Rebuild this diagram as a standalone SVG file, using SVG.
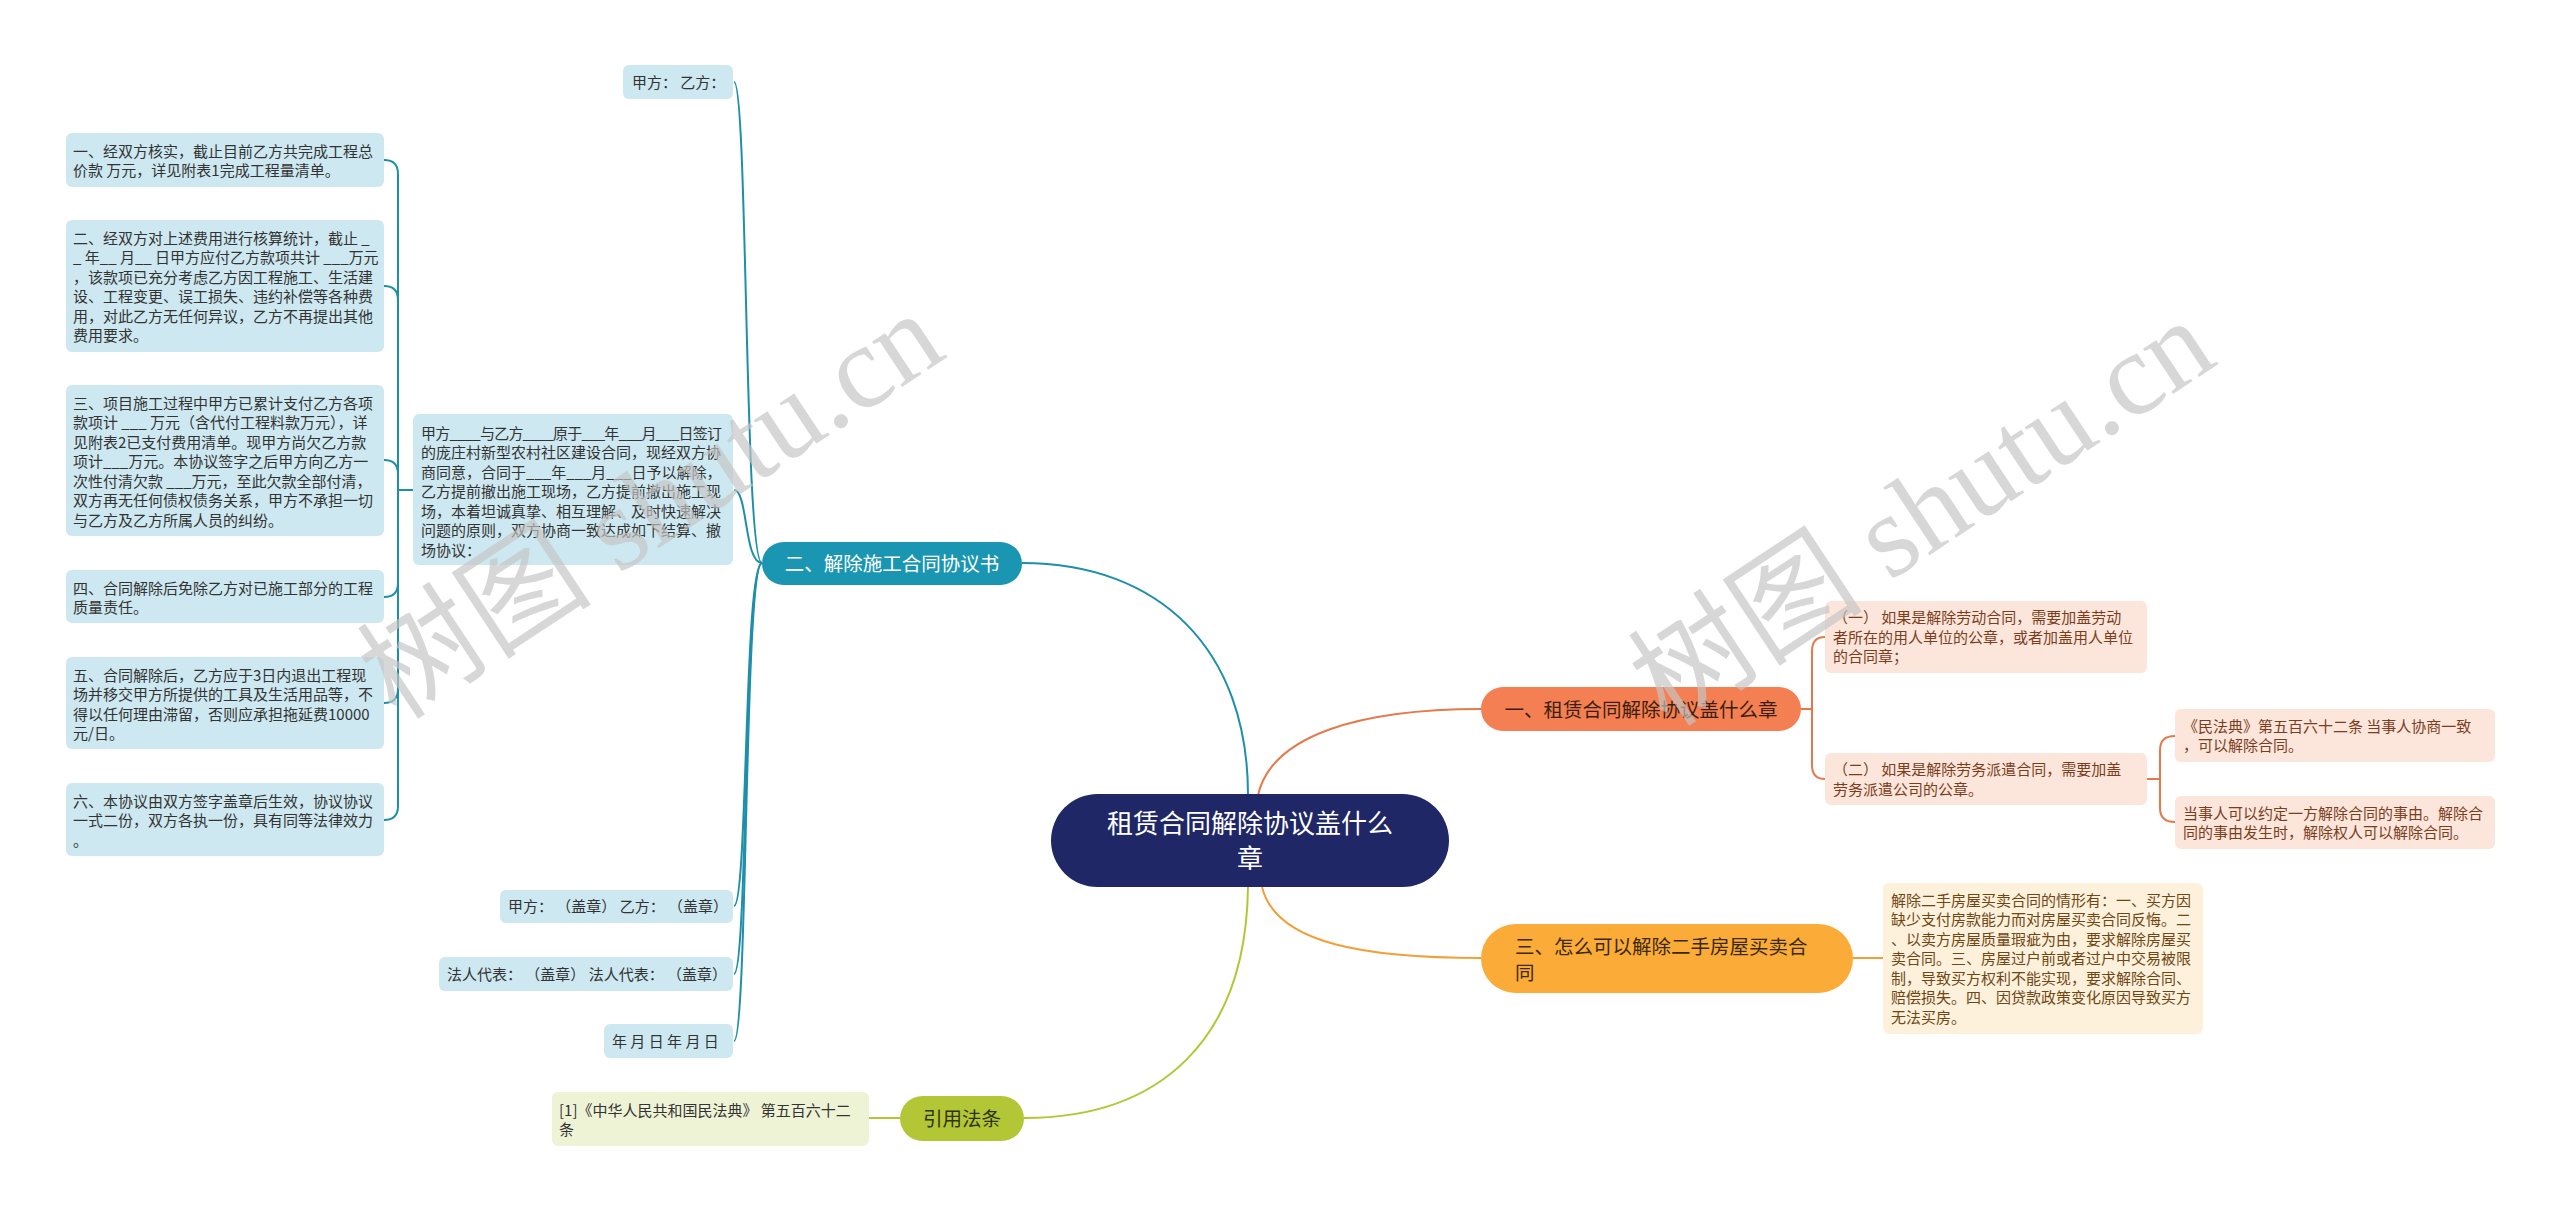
<svg xmlns="http://www.w3.org/2000/svg" width="2560" height="1211" viewBox="0 0 2560 1211">
<style>
text { font-family: "Noto Sans CJK SC", "Noto Sans", sans-serif; }
.t15 { font-size: 15px; fill: #333333; }
.tb { font-size: 15px; fill: #7a3e1d; }
.tc { font-size: 15px; fill: #6f4714; }
.leaf { fill: #cde8f0; }
.peach { fill: #fce5da; }
.cream { fill: #fdf1dc; }
.green { fill: #eef3d6; }
.teal { fill: none; stroke: #1e8fab; stroke-width: 2; }
.coral { fill: none; stroke: #e47a4c; stroke-width: 2; }
.amber { fill: none; stroke: #f0a036; stroke-width: 2; }
.olive { fill: none; stroke: #b3c635; stroke-width: 2; }
.main { font-size: 19.5px; }
.wm { font-family: "Liberation Serif", "Noto Sans CJK SC", serif; font-size: 118px; fill: #c4c4c4; fill-opacity: 0.68; }
</style>
<rect width="2560" height="1211" fill="#ffffff"/>

<g id="connectors">
  <path class="teal" d="M1248 795 C1248 650 1160 563 1022 563" stroke-width="2.5"/>
  <path class="coral" d="M1258 795 C1272 735 1360 709 1481 709" stroke-width="2.5"/>
  <path class="amber" d="M1262 887 C1276 945 1370 958 1481 958" stroke-width="2.5"/>
  <path class="olive" d="M1248 887 C1246 1040 1160 1118 1024 1118" stroke-width="2.5"/>
  <path class="teal" d="M762 563 C744 563 748 82 734 82"/>
  <path class="teal" d="M762 563 C744 563 748 490 734 490"/>
  <path class="teal" d="M762 563 C744 563 748 906 734 906"/>
  <path class="teal" d="M762 563 C744 563 748 974 734 974"/>
  <path class="teal" d="M762 563 C744 563 748 1041 734 1041"/>
  <path class="teal" d="M413 490 L398 490"/>
  <path class="teal" d="M398 174 L398 806"/>
  <path class="teal" d="M384 160 Q398 160 398 174"/>
  <path class="teal" d="M384 286 Q398 286 398 300"/>
  <path class="teal" d="M384 460 Q398 460 398 474"/>
  <path class="teal" d="M384 597 Q398 597 398 583"/>
  <path class="teal" d="M384 703 Q398 703 398 689"/>
  <path class="teal" d="M384 820 Q398 820 398 806"/>
  <path class="coral" d="M1801 709 L1812 709"/>
  <path class="coral" d="M1825 637 Q1812 637 1812 651 L1812 765 Q1812 779 1825 779"/>
  <path class="coral" d="M2147 779 L2160 779"/>
  <path class="coral" d="M2175 736 Q2160 736 2160 750 L2160 808 Q2160 822 2175 822"/>
  <path class="amber" d="M1853 958 L1883 958"/>
  <path class="olive" d="M869 1118 L900 1118"/>
</g>

<g id="center">
  <rect x="1051" y="794" width="398" height="93" rx="46.5" fill="#202766"/>
  <text x="1250" y="833" text-anchor="middle" font-size="26" fill="#ffffff">租赁合同解除协议盖什么</text>
  <text x="1250" y="868" text-anchor="middle" font-size="26" fill="#ffffff">章</text>
</g>

<g id="branch-2">
  <rect x="762" y="542" width="260" height="43" rx="21.5" fill="#1a96b3"/>
  <text class="main" x="892" y="570.5" text-anchor="middle" fill="#ffffff">二、解除施工合同协议书</text>
</g>

<g id="n-jiayi">
  <rect class="leaf" x="623" y="65" width="110" height="34" rx="6"/>
  <text class="t15" x="632" y="87.5">甲方： 乙方：</text>
</g>

<g id="n-intro">
  <rect class="leaf" x="413" y="414" width="320" height="151" rx="6"/>
  <text class="t15" x="421" y="438.7"><tspan textLength="301" lengthAdjust="spacing">甲方____与乙方____原于___年___月___日签订</tspan><tspan x="421" dy="19.5">的庞庄村新型农村社区建设合同，现经双方协</tspan><tspan x="421" dy="19.5">商同意，合同于___年___月___日予以解除，</tspan><tspan x="421" dy="19.5">乙方提前撤出施工现场，乙方提前撤出施工现</tspan><tspan x="421" dy="19.5">场，本着坦诚真挚、相互理解、及时快速解决</tspan><tspan x="421" dy="19.5">问题的原则，双方协商一致达成如下结算、撤</tspan><tspan x="421" dy="19.5">场协议：</tspan></text>
</g>

<g id="n-c1">
  <rect class="leaf" x="66" y="133" width="318" height="54" rx="6"/>
  <text class="t15" x="73" y="156.7">一、经双方核实，截止目前乙方共完成工程总<tspan x="73" dy="19.5">价款 万元，详见附表1完成工程量清单。</tspan></text>
</g>

<g id="n-c2">
  <rect class="leaf" x="66" y="220" width="318" height="132" rx="6"/>
  <text class="t15" x="73" y="243.7">二、经双方对上述费用进行核算统计，截止 _<tspan x="73" dy="19.5">_ 年__ 月__ 日甲方应付乙方款项共计 ___万元</tspan><tspan x="73" dy="19.5">，该款项已充分考虑乙方因工程施工、生活建</tspan><tspan x="73" dy="19.5">设、工程变更、误工损失、违约补偿等各种费</tspan><tspan x="73" dy="19.5">用，对此乙方无任何异议，乙方不再提出其他</tspan><tspan x="73" dy="19.5">费用要求。</tspan></text>
</g>

<g id="n-c3">
  <rect class="leaf" x="66" y="385" width="318" height="151" rx="6"/>
  <text class="t15" x="73" y="408.7">三、项目施工过程中甲方已累计支付乙方各项<tspan x="73" dy="19.5">款项计 ___ 万元（含代付工程料款万元），详</tspan><tspan x="73" dy="19.5">见附表2已支付费用清单。现甲方尚欠乙方款</tspan><tspan x="73" dy="19.5">项计___万元。本协议签字之后甲方向乙方一</tspan><tspan x="73" dy="19.5">次性付清欠款 ___万元，至此欠款全部付清，</tspan><tspan x="73" dy="19.5">双方再无任何债权债务关系，甲方不承担一切</tspan><tspan x="73" dy="19.5">与乙方及乙方所属人员的纠纷。</tspan></text>
</g>

<g id="n-c4">
  <rect class="leaf" x="66" y="570" width="318" height="53" rx="6"/>
  <text class="t15" x="73" y="593.7">四、合同解除后免除乙方对已施工部分的工程<tspan x="73" dy="19.5">质量责任。</tspan></text>
</g>

<g id="n-c5">
  <rect class="leaf" x="66" y="657" width="318" height="92" rx="6"/>
  <text class="t15" x="73" y="680.7">五、合同解除后，乙方应于3日内退出工程现<tspan x="73" dy="19.5">场并移交甲方所提供的工具及生活用品等，不</tspan><tspan x="73" dy="19.5">得以任何理由滞留，否则应承担拖延费10000</tspan><tspan x="73" dy="19.5">元/日。</tspan></text>
</g>

<g id="n-c6">
  <rect class="leaf" x="66" y="783" width="318" height="73" rx="6"/>
  <text class="t15" x="73" y="806.7">六、本协议由双方签字盖章后生效，协议协议<tspan x="73" dy="19.5">一式二份，双方各执一份，具有同等法律效力</tspan><tspan x="73" dy="19.5">。</tspan></text>
</g>

<g id="n-seal">
  <rect class="leaf" x="500" y="890" width="233" height="33" rx="6"/>
  <text class="t15" x="508" y="912">甲方： （盖章） 乙方： （盖章）</text>
</g>

<g id="n-legal">
  <rect class="leaf" x="439" y="957" width="294" height="34" rx="6"/>
  <text class="t15" x="447" y="979.5">法人代表： （盖章） 法人代表： （盖章）</text>
</g>

<g id="n-date">
  <rect class="leaf" x="604" y="1024" width="129" height="34" rx="6"/>
  <text class="t15" x="612" y="1046.5">年 月 日 年 月 日</text>
</g>

<g id="branch-1">
  <rect x="1481" y="687" width="320" height="44" rx="22" fill="#f47f52"/>
  <text class="main" x="1641" y="716.5" text-anchor="middle" fill="#3b1e0e">一、租赁合同解除协议盖什么章</text>
</g>

<g id="n-r1">
  <rect class="peach" x="1825" y="601" width="322" height="72" rx="6"/>
  <text class="tb" x="1833" y="623.2">（一） 如果是解除劳动合同，需要加盖劳动<tspan x="1833" dy="19.5">者所在的用人单位的公章，或者加盖用人单位</tspan><tspan x="1833" dy="19.5">的合同章；</tspan></text>
</g>

<g id="n-r2">
  <rect class="peach" x="1825" y="753" width="322" height="52" rx="6"/>
  <text class="tb" x="1833" y="775">（二） 如果是解除劳务派遣合同，需要加盖<tspan x="1833" dy="19.5">劳务派遣公司的公章。</tspan></text>
</g>

<g id="n-r2a">
  <rect class="peach" x="2175" y="709" width="320" height="53" rx="6"/>
  <text class="tb" x="2183" y="731.5">《民法典》第五百六十二条 当事人协商一致<tspan x="2183" dy="19.5">，可以解除合同。</tspan></text>
</g>

<g id="n-r2b">
  <rect class="peach" x="2175" y="796" width="320" height="53" rx="6"/>
  <text class="tb" x="2183" y="818.5">当事人可以约定一方解除合同的事由。解除合<tspan x="2183" dy="19.5">同的事由发生时，解除权人可以解除合同。</tspan></text>
</g>

<g id="branch-3">
  <rect x="1481" y="924" width="372" height="69" rx="34.5" fill="#fbab38"/>
  <text class="main" x="1515" y="954.4" fill="#3b2a0a">三、怎么可以解除二手房屋买卖合<tspan x="1515" dy="26">同</tspan></text>
</g>

<g id="n-r3">
  <rect class="cream" x="1883" y="883" width="320" height="151" rx="6"/>
  <text class="tc" x="1891" y="905.7">解除二手房屋买卖合同的情形有：一、买方因<tspan x="1891" dy="19.5">缺少支付房款能力而对房屋买卖合同反悔。二</tspan><tspan x="1891" dy="19.5">、以卖方房屋质量瑕疵为由，要求解除房屋买</tspan><tspan x="1891" dy="19.5">卖合同。三、房屋过户前或者过户中交易被限</tspan><tspan x="1891" dy="19.5">制，导致买方权利不能实现，要求解除合同、</tspan><tspan x="1891" dy="19.5">赔偿损失。四、因贷款政策变化原因导致买方</tspan><tspan x="1891" dy="19.5">无法买房。</tspan></text>
</g>

<g id="branch-ref">
  <rect x="900" y="1096" width="124" height="45" rx="22.5" fill="#b3c635"/>
  <text class="main" x="962" y="1125.5" text-anchor="middle" fill="#2f330a">引用法条</text>
</g>

<g id="n-ref">
  <rect class="green" x="552" y="1092" width="317" height="54" rx="6"/>
  <text class="t15" x="559" y="1115.5">[1]《中华人民共和国民法典》 第五百六十二<tspan x="559" dy="19.5">条</tspan></text>
</g>

<g id="watermark">
  <text class="wm" x="652" y="545" text-anchor="middle" transform="rotate(-33.5 652 507)">树图 shutu.cn</text>
  <text class="wm" x="1923" y="552" text-anchor="middle" transform="rotate(-33.5 1923 514)">树图 shutu.cn</text>
</g>
</svg>
